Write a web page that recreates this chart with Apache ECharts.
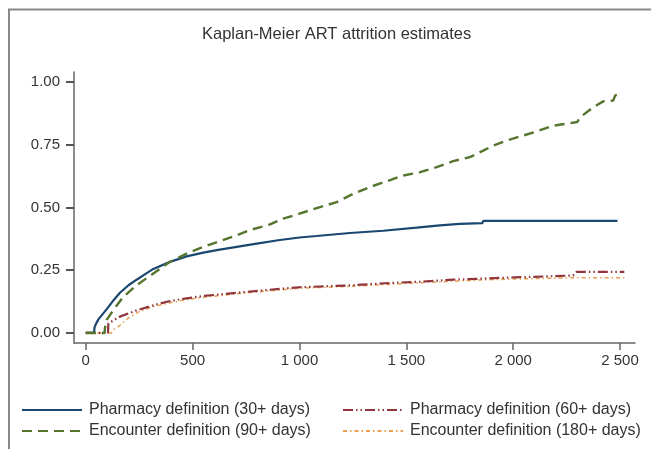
<!DOCTYPE html>
<html>
<head>
<meta charset="utf-8">
<script src="https://cdn.jsdelivr.net/npm/echarts@6/dist/echarts.min.js"></script>
<style>html,body{margin:0;padding:0;background:#fff}#c{width:651px;height:449px}</style>
</head>
<body>
<div id="c"></div>
<script>
var titleText = 'Kaplan-Meier ART attrition estimates';
var seriesNames = ['Pharmacy definition (30+ days)', 'Pharmacy definition (60+ days)', 'Encounter definition (90+ days)', 'Encounter definition (180+ days)'];
var xTicks = [0, 500, 1000, 1500, 2000, 2500];
var yTicks = [0, 0.25, 0.5, 0.75, 1];

var pharm30Days = [0, 39, 41, 50, 60, 82, 100, 125, 160, 200, 238, 280, 316, 394, 472, 550, 620, 706, 800, 900, 1000, 1080, 1236, 1392, 1548, 1657, 1750, 1855, 1860, 2488];
var pharm30Vals = [0, 0, 0.022, 0.04, 0.055, 0.078, 0.097, 0.125, 0.16, 0.19, 0.212, 0.235, 0.255, 0.283, 0.305, 0.32, 0.331, 0.343, 0.356, 0.369, 0.38, 0.386, 0.398, 0.407, 0.419, 0.428, 0.434, 0.437, 0.446, 0.446];

var pharm60Days = [0, 104, 106, 160, 238, 316, 394, 472, 550, 706, 862, 1000, 1096, 1252, 1400, 1564, 1719, 1875, 2031, 2187, 2280, 2296, 2520];
var pharm60Vals = [0, 0, 0.038, 0.065, 0.09, 0.11, 0.127, 0.138, 0.147, 0.16, 0.172, 0.182, 0.185, 0.19, 0.198, 0.204, 0.212, 0.217, 0.222, 0.226, 0.229, 0.243, 0.243];

var enc90Days = [0, 88, 90, 98, 129, 176, 238, 316, 394, 472, 550, 706, 769, 862, 924, 1000, 1096, 1174, 1252, 1330, 1408, 1486, 1564, 1642, 1719, 1797, 1860, 1906, 1969, 2031, 2109, 2187, 2265, 2300, 2312, 2374, 2421, 2468, 2478, 2488];
var enc90Vals = [0, 0, 0.02, 0.052, 0.091, 0.144, 0.19, 0.237, 0.283, 0.316, 0.343, 0.389, 0.41, 0.432, 0.455, 0.475, 0.501, 0.521, 0.554, 0.581, 0.604, 0.627, 0.640, 0.660, 0.684, 0.700, 0.726, 0.746, 0.766, 0.782, 0.802, 0.825, 0.835, 0.84, 0.858, 0.898, 0.922, 0.925, 0.947, 0.947];

var enc180Days = [0, 120, 125, 160, 200, 250, 316, 394, 472, 550, 706, 862, 1000, 1252, 1564, 1875, 2187, 2296, 2520];
var enc180Vals = [0, 0, 0.01, 0.03, 0.06, 0.085, 0.105, 0.12, 0.133, 0.142, 0.156, 0.168, 0.178, 0.186, 0.2, 0.212, 0.218, 0.22, 0.22];

function pairs(xs, ys) { return xs.map(function (x, i) { return [x, ys[i]]; }); }

var FONT = 'Liberation Sans, Arial, sans-serif';
var chart = echarts.init(document.getElementById('c'), null, {renderer: 'canvas'});

function legendAt(name, left, top) {
  return {
    data: [name], left: left, top: top, padding: 0,
    itemWidth: 60, itemHeight: 14, itemGap: 0,
    itemStyle: {color: 'rgba(0,0,0,0)', borderColor: 'rgba(0,0,0,0)', borderWidth: 0},
    textStyle: {fontSize: 16, color: '#333', fontFamily: FONT, padding: [0, 0, 0, 2]}
  };
}

chart.setOption({
  animation: false,
  backgroundColor: '#fff',
  title: {
    text: titleText, left: 197, top: 21,
    textStyle: {fontSize: 16.5, fontWeight: 'normal', color: '#333', fontFamily: FONT}
  },
  graphic: [{
    type: 'rect', silent: true,
    shape: {x: 9, y: 9.5, width: 700, height: 500},
    style: {fill: 'none', stroke: '#888', lineWidth: 2}
  }],
  legend: [
    legendAt(seriesNames[0], 21, 402),
    legendAt(seriesNames[1], 342, 402),
    legendAt(seriesNames[2], 21, 423),
    legendAt(seriesNames[3], 342, 423)
  ],
  grid: {left: 74, right: 16, top: 72, bottom: 106, containLabel: false},
  xAxis: {
    type: 'value', min: -55, max: 2570,
    axisLine: {show: true, onZero: false, lineStyle: {color: '#666', width: 1.5}},
    axisTick: {show: true, length: 7, customValues: xTicks, lineStyle: {color: '#666', width: 1.5}},
    axisLabel: {
      customValues: xTicks, margin: 10, fontSize: 15, color: '#333', fontFamily: FONT,
      formatter: function (v) { return String(v).replace(/\B(?=(\d{3})+(?!\d))/g, ' '); }
    },
    splitLine: {show: false}
  },
  yAxis: {
    type: 'value', min: -0.04, max: 1.039,
    axisLine: {show: true, onZero: false, lineStyle: {color: '#666', width: 1.5}},
    axisTick: {show: true, inside: false, length: 8, customValues: yTicks, lineStyle: {color: '#555', width: 2}},
    axisLabel: {
      customValues: yTicks, margin: 14, fontSize: 15, color: '#333', fontFamily: FONT,
      formatter: function (v) { return v.toFixed(2); }
    },
    splitLine: {show: false}
  },
  series: [
    {
      name: seriesNames[0], type: 'line', symbol: 'none', data: pairs(pharm30Days, pharm30Vals),
      itemStyle: {color: '#1a476f'},
      lineStyle: {color: '#1a476f', width: 2.2}, z: 4
    },
    {
      name: seriesNames[1], type: 'line', symbol: 'none', data: pairs(pharm60Days, pharm60Vals),
      itemStyle: {color: '#90353b'},
      lineStyle: {color: '#90353b', width: 2.2, type: [10, 3, 1.5, 3, 1.5, 3]}, z: 3
    },
    {
      name: seriesNames[2], type: 'line', symbol: 'none', data: pairs(enc90Days, enc90Vals),
      itemStyle: {color: '#55752f'},
      lineStyle: {color: '#55752f', width: 2.4, type: [10, 6]}, z: 5
    },
    {
      name: seriesNames[3], type: 'line', symbol: 'none', data: pairs(enc180Days, enc180Vals),
      itemStyle: {color: '#e38a2a'},
      lineStyle: {color: '#e8a050', width: 1.5, type: [4, 3, 1.5, 3]}, z: 2
    }
  ]
});
</script>
</body>
</html>
